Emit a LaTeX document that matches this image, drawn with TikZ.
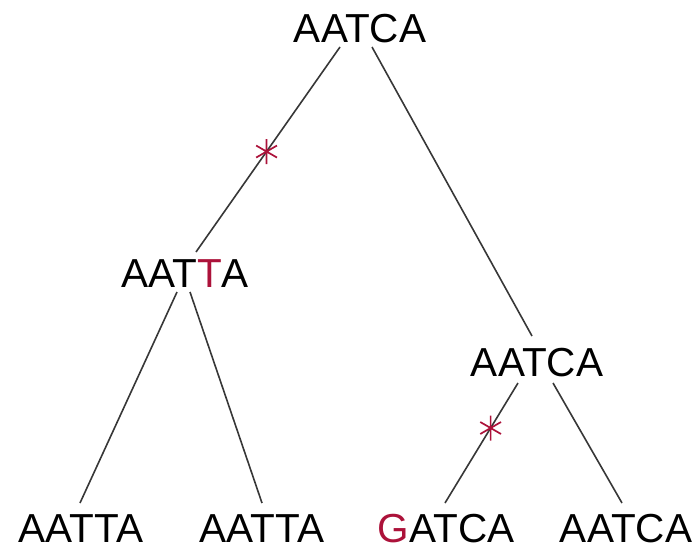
\documentclass[tikz,border=0pt]{standalone}
\usepackage{fontspec}
\setmainfont{Liberation Sans}
\definecolor{mutred}{RGB}{172,18,58}
\definecolor{edgegray}{RGB}{55,55,55}
\begin{document}
\begin{tikzpicture}[x=1pt,y=-1pt,
  seq/.style={inner sep=0pt, anchor=base, font=\fontsize{40.5}{48}\selectfont},
  branch/.style={draw=edgegray, line width=1.6pt},
  mutstar/.style={circle, minimum size=30pt, inner sep=0pt,
    path picture={
      \draw[mutred, line width=1.7pt]
        ([shift={(90:12.5pt)}]path picture bounding box.center) -- ([shift={(270:12.5pt)}]path picture bounding box.center)
        ([shift={(30:12pt)}]path picture bounding box.center) -- ([shift={(210:12pt)}]path picture bounding box.center)
        ([shift={(150:12pt)}]path picture bounding box.center) -- ([shift={(330:12pt)}]path picture bounding box.center);
    }}]
\useasboundingbox (0,0) rectangle (699,549);
\node[seq] (root) at (360,42) {AATCA};
\node[seq] (left) at (185,287) {AAT\textcolor{mutred}{T}A};
\node[seq] (right) at (537,376) {AATCA};
\node[seq] (l1) at (81,542) {AATTA};
\node[seq] (l2) at (262,542) {AATTA};
\node[seq] (l3) at (446,542) {\textcolor{mutred}{G}ATCA};
\node[seq] (l4) at (626,542) {AATCA};

\draw[branch] ([shift={(-20,5)}]root.base) -- node[mutstar, pos=0.51] (m1) {} ([shift={(11,-35)}]left.base);
\draw[branch] ([shift={(12,5)}]root.base) -- ([shift={(-5,-40)}]right.base);
\draw[branch] ([shift={(-8,5)}]left.base) -- ([shift={(-1,-39)}]l1.base);
\draw[branch] ([shift={(5,5)}]left.base) -- ([shift={(0,-39)}]l2.base);
\draw[branch] ([shift={(-19,7)}]right.base) -- node[mutstar, pos=0.375] (m2) {} ([shift={(-1,-39)}]l3.base);
\draw[branch] ([shift={(16,7)}]right.base) -- ([shift={(-4,-39)}]l4.base);
\end{tikzpicture}
\end{document}
